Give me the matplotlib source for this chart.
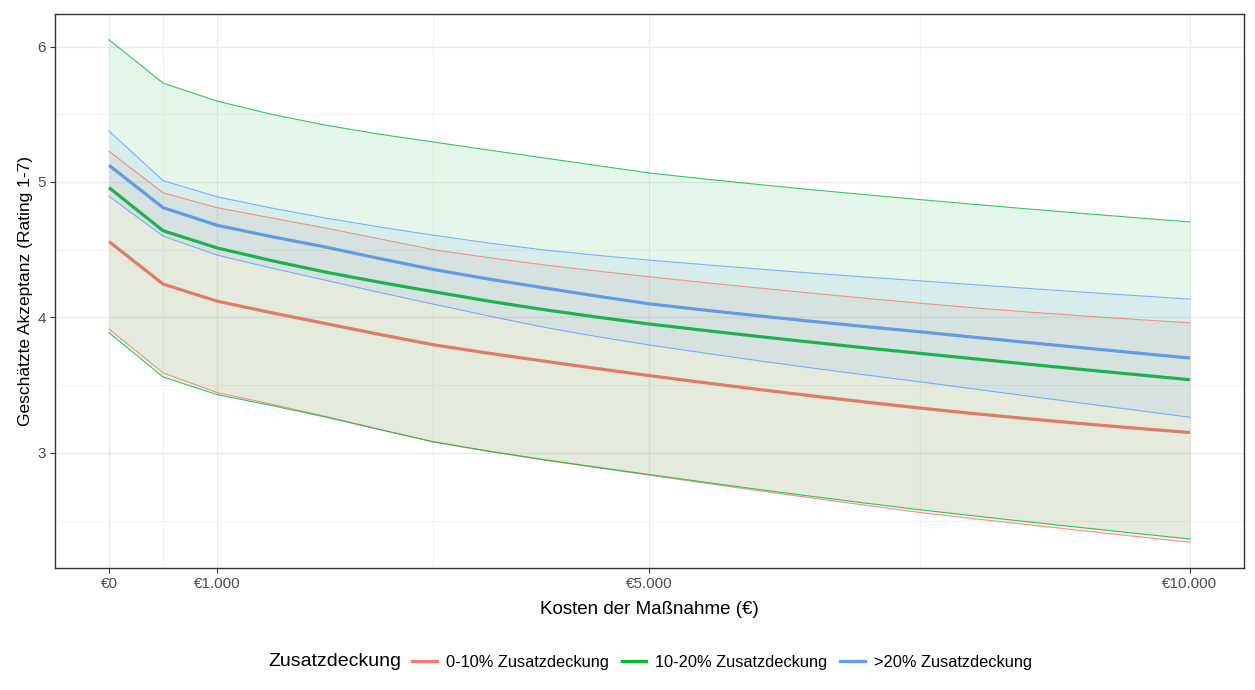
import matplotlib
matplotlib.use("Agg")
import matplotlib.pyplot as plt
from matplotlib.lines import Line2D
from matplotlib.ticker import FuncFormatter

plt.rcParams['font.family'] = ['Liberation Sans', 'DejaVu Sans']

# Kosten der Massnahme (EUR), Schritte von 500
kosten = [0, 500, 1000, 1500, 2000, 2500, 3000, 3500, 4000, 4500, 5000,
          5500, 6000, 6500, 7000, 7500, 8000, 8500, 9000, 9500, 10000]

# 0-10% Zusatzdeckung
red_mean = [4.56, 4.246, 4.12, 4.035, 3.955, 3.875, 3.798, 3.737, 3.68, 3.624, 3.57,
            3.519, 3.469, 3.421, 3.375, 3.331, 3.29, 3.252, 3.216, 3.182, 3.15]
red_upper = [5.226, 4.92, 4.81, 4.735, 4.66, 4.58, 4.50, 4.443, 4.39, 4.344, 4.30,
             4.258, 4.218, 4.179, 4.141, 4.105, 4.071, 4.04, 4.012, 3.985, 3.96]
red_lower = [3.914, 3.59, 3.445, 3.36, 3.27, 3.175, 3.08, 3.012, 2.95, 2.892, 2.835,
             2.778, 2.722, 2.667, 2.613, 2.56, 2.514, 2.47, 2.426, 2.383, 2.34]

# 10-20% Zusatzdeckung
green_mean = [4.958, 4.64, 4.513, 4.42, 4.335, 4.26, 4.19, 4.122, 4.06, 4.004, 3.951,
              3.905, 3.86, 3.817, 3.775, 3.735, 3.695, 3.655, 3.616, 3.578, 3.54]
green_upper = [6.05, 5.73, 5.597, 5.50, 5.42, 5.353, 5.295, 5.237, 5.18, 5.123, 5.066,
               5.023, 4.982, 4.943, 4.906, 4.87, 4.835, 4.801, 4.768, 4.736, 4.705]
green_lower = [3.887, 3.56, 3.43, 3.35, 3.265, 3.172, 3.082, 3.015, 2.953, 2.896, 2.84,
               2.785, 2.731, 2.679, 2.629, 2.58, 2.535, 2.491, 2.448, 2.406, 2.364]

# >20% Zusatzdeckung
blue_mean = [5.123, 4.81, 4.68, 4.597, 4.52, 4.435, 4.354, 4.285, 4.221, 4.159, 4.10,
             4.055, 4.012, 3.971, 3.932, 3.894, 3.854, 3.815, 3.776, 3.738, 3.70]
blue_upper = [5.376, 5.01, 4.89, 4.808, 4.734, 4.668, 4.607, 4.551, 4.50, 4.46, 4.423,
              4.39, 4.358, 4.327, 4.298, 4.27, 4.242, 4.214, 4.187, 4.161, 4.135]
blue_lower = [4.894, 4.60, 4.46, 4.365, 4.275, 4.185, 4.098, 4.013, 3.931, 3.86, 3.796,
              3.738, 3.681, 3.627, 3.575, 3.525, 3.472, 3.419, 3.367, 3.315, 3.263]

labels = ['0-10% Zusatzdeckung', '10-20% Zusatzdeckung', '>20% Zusatzdeckung']
colors = ['#F8766D', '#00BA38', '#619CFF']

x_ticks = [0, 1000, 5000, 10000]
x_minor = [500, 3000, 7500]
y_ticks = [3, 4, 5, 6]
y_minor = [2.5, 3.5, 4.5, 5.5]

series = [
    (red_mean, red_lower, red_upper),
    (green_mean, green_lower, green_upper),
    (blue_mean, blue_lower, blue_upper),
]

fig = plt.figure(figsize=(12.55, 6.9), dpi=100)
ax = fig.add_axes([55 / 1255, 1 - 568 / 690, (1244 - 55) / 1255, (568 - 14) / 690])

# mean lines first, the ribbons are layered over them (like the ggplot layer order)
for (mean, lower, upper), col in zip(series, colors):
    ax.plot(kosten, mean, color=col, lw=2.3, zorder=2, solid_capstyle='butt')
for (mean, lower, upper), col in zip(series, colors):
    ax.fill_between(kosten, lower, upper, color=col, alpha=0.1, lw=0, zorder=3)
    ax.plot(kosten, upper, color=col, lw=0.8, alpha=0.8, zorder=4)
    ax.plot(kosten, lower, color=col, lw=0.8, alpha=0.8, zorder=4)

ax.set_xlim(-500, 10500)
ax.set_ylim(2.15, 6.24)
ax.set_xticks(x_ticks)
ax.set_xticks(x_minor, minor=True)
ax.set_yticks(y_ticks)
ax.set_yticks(y_minor, minor=True)
ax.xaxis.set_major_formatter(FuncFormatter(lambda v, p: '€' + f'{int(v):,}'.replace(',', '.')))

ax.grid(which='major', color='#EBEBEB', lw=1.0, zorder=0)
ax.grid(which='minor', color='#F3F3F3', lw=0.8, zorder=0)
ax.set_axisbelow(True)
ax.tick_params(which='major', length=3.5, width=0.8, color='#333333',
               labelcolor='#4D4D4D', labelsize=11, pad=3)
ax.tick_params(which='minor', length=0)
for s in ax.spines.values():
    s.set_color('#333333')
    s.set_linewidth(1.0)

ax.set_xlabel('Kosten der Maßnahme (€)', fontsize=13.5, color='black', labelpad=7)
ax.set_ylabel('Geschätzte Akzeptanz (Rating 1-7)', fontsize=12.5, color='black', labelpad=3)

# legend at the bottom, title on the left like ggplot
fig.text(268 / 1255, 1 - 662 / 690, 'Zusatzdeckung', fontsize=14, va='center', ha='left')
handles = [Line2D([0], [0], color=c, lw=2.3) for c in colors]
fig.legend(handles, labels, loc='center left', bbox_to_anchor=(412 / 1255, 1 - 662 / 690),
           ncol=3, frameon=False, fontsize=11.8, handlelength=1.5, handletextpad=0.55,
           columnspacing=0.8, borderaxespad=0, borderpad=0)

fig.savefig('out.png', dpi=100)
